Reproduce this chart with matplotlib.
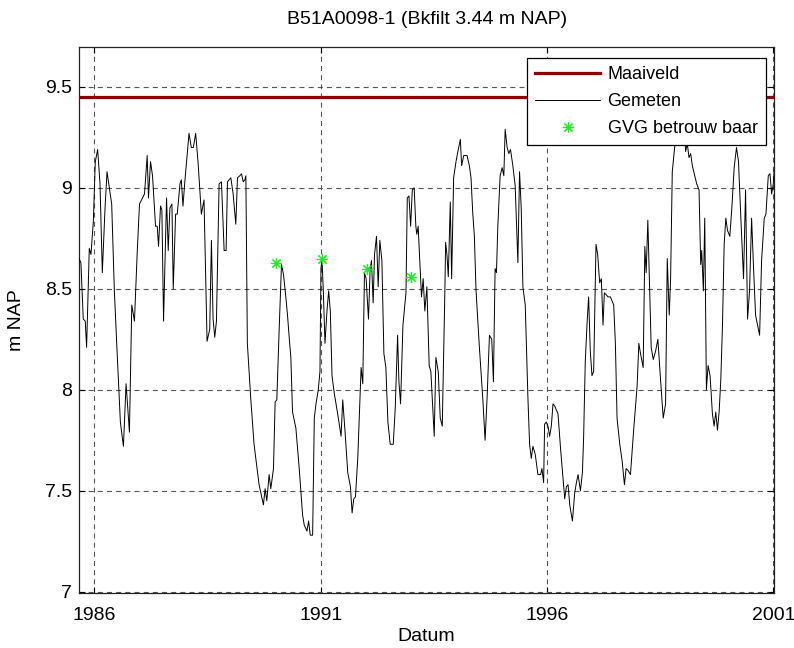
import matplotlib
matplotlib.use("Agg")
import matplotlib.pyplot as plt
from matplotlib.ticker import FormatStrFormatter

plt.rcParams['font.family'] = ['Liberation Sans', 'DejaVu Sans']
plt.rcParams['lines.scale_dashes'] = False

# measured groundwater levels (decimal year, m NAP)
dates_a = [1985.662, 1985.704, 1985.756, 1985.800, 1985.830, 1985.889, 1985.926, 1985.978, 1986.022, 1986.074,
           1986.126, 1986.177, 1986.237, 1986.281, 1986.384, 1986.443, 1986.503, 1986.576, 1986.643, 1986.702,
           1986.776, 1986.828, 1986.887, 1986.946, 1986.998, 1987.109, 1987.168, 1987.197, 1987.242, 1987.286,
           1987.353, 1987.390, 1987.419, 1987.463, 1987.493, 1987.530, 1987.596, 1987.633, 1987.670, 1987.715,
           1987.744, 1987.796, 1987.833, 1987.892, 1987.922, 1987.959, 1987.996, 1988.092, 1988.143, 1988.188,
           1988.239, 1988.291, 1988.365, 1988.424, 1988.491, 1988.550, 1988.587, 1988.624, 1988.661, 1988.698,
           1988.757, 1988.809, 1988.868, 1988.912, 1988.942, 1989.016, 1989.067, 1989.126, 1989.163, 1989.215,
           1989.252, 1989.289, 1989.326, 1989.348]
levels_a = [8.65, 8.63, 8.35, 8.34, 8.21, 8.70, 8.67, 8.83, 9.13, 9.19,
            9.02, 8.58, 8.90, 9.08, 8.92, 8.49, 8.19, 7.84, 7.72, 8.03,
            7.79, 8.42, 8.34, 8.67, 8.92, 8.97, 9.16, 8.95, 9.13, 9.06,
            8.81, 8.81, 8.71, 8.91, 8.89, 8.34, 8.95, 8.69, 8.90, 8.92,
            8.50, 8.87, 8.87, 9.02, 9.04, 8.91, 9.02, 9.27, 9.20, 9.20,
            9.27, 9.13, 8.87, 8.94, 8.24, 8.30, 8.74, 8.35, 8.26, 8.34,
            9.02, 9.03, 8.69, 8.69, 9.03, 9.05, 8.97, 8.82, 9.05, 9.06,
            9.07, 9.03, 9.04, 9.06]

dates_b = [1989.381, 1989.455, 1989.529, 1989.640, 1989.736, 1989.773, 1989.810, 1989.862, 1989.899, 1989.958,
           1989.995, 1990.032, 1990.084, 1990.135, 1990.180, 1990.231, 1990.268, 1990.305, 1990.342, 1990.379,
           1990.453, 1990.527, 1990.601, 1990.638, 1990.697, 1990.734, 1990.771, 1990.823, 1990.860, 1990.897,
           1990.948, 1990.985, 1991.007, 1991.030, 1991.059, 1991.096, 1991.140, 1991.177, 1991.214, 1991.251,
           1991.303, 1991.377, 1991.451, 1991.488, 1991.540, 1991.599, 1991.658, 1991.695, 1991.732, 1991.769,
           1991.820, 1991.894, 1991.931, 1991.968, 1992.005, 1992.057, 1992.094, 1992.123, 1992.160, 1992.190,
           1992.234, 1992.271, 1992.308, 1992.353, 1992.397, 1992.441, 1992.486, 1992.537, 1992.604, 1992.648,
           1992.700, 1992.729, 1992.766, 1992.818, 1992.885, 1992.914, 1992.951, 1992.988, 1993.025]
levels_b = [8.23, 7.96, 7.73, 7.53, 7.43, 7.51, 7.45, 7.58, 7.51, 7.61,
            7.94, 7.95, 8.30, 8.62, 8.57, 8.46, 8.37, 8.26, 8.16, 7.89,
            7.81, 7.61, 7.38, 7.33, 7.30, 7.35, 7.28, 7.28, 7.86, 7.93,
            8.00, 8.09, 8.60, 8.65, 8.49, 8.23, 8.39, 8.49, 8.39, 8.07,
            7.98, 7.88, 7.77, 7.95, 7.79, 7.59, 7.52, 7.39, 7.46, 7.47,
            7.66, 8.11, 8.03, 8.58, 8.55, 8.35, 8.60, 8.64, 8.43, 8.67,
            8.76, 8.51, 8.74, 8.64, 8.18, 8.11, 7.84, 7.73, 7.73, 7.91,
            8.27, 8.04, 7.93, 8.32, 8.48, 8.95, 8.96, 8.81, 8.99]

dates_c = [1993.066, 1993.103, 1993.125, 1993.154, 1993.199, 1993.228, 1993.265, 1993.302, 1993.347, 1993.398,
           1993.435, 1993.472, 1993.509, 1993.546, 1993.598, 1993.642, 1993.687, 1993.746, 1993.761, 1993.790,
           1993.820, 1993.864, 1993.894, 1993.938, 1993.990, 1994.041, 1994.086, 1994.115, 1994.160, 1994.234,
           1994.285, 1994.322, 1994.359, 1994.396, 1994.433, 1994.507, 1994.581, 1994.633, 1994.677, 1994.729,
           1994.780, 1994.817, 1994.854, 1994.884, 1994.914, 1994.965, 1995.010, 1995.047, 1995.076, 1995.120,
           1995.157, 1995.194, 1995.246, 1995.298, 1995.357, 1995.394, 1995.431, 1995.468, 1995.520, 1995.579,
           1995.616, 1995.653, 1995.690, 1995.741, 1995.800, 1995.860, 1995.889, 1995.926, 1995.948, 1995.985,
           1996.022, 1996.059, 1996.096, 1996.133, 1996.170, 1996.244, 1996.303, 1996.355, 1996.392, 1996.429,
           1996.466, 1996.503, 1996.562, 1996.613, 1996.650, 1996.687, 1996.739, 1996.783]
levels_c = [9.00, 8.81, 8.77, 8.81, 8.60, 8.46, 8.55, 8.39, 8.51, 8.12,
            8.09, 7.93, 7.77, 8.16, 8.09, 7.86, 7.82, 8.51, 8.73, 8.67,
            8.56, 8.93, 8.55, 9.05, 9.13, 9.19, 9.24, 9.11, 9.16, 9.16,
            9.11, 9.05, 8.88, 8.76, 8.49, 8.21, 7.96, 7.75, 7.96, 8.27,
            8.25, 8.04, 8.60, 8.58, 8.81, 9.06, 9.10, 9.06, 9.29, 9.20,
            9.17, 9.19, 9.11, 9.01, 8.63, 9.08, 8.90, 8.51, 8.42, 7.96,
            7.73, 7.66, 7.72, 7.68, 7.58, 7.58, 7.61, 7.54, 7.83, 7.84,
            7.82, 7.77, 7.82, 7.93, 7.92, 7.88, 7.70, 7.56, 7.46, 7.52,
            7.53, 7.43, 7.35, 7.49, 7.54, 7.58, 7.50, 7.59]

dates_d = [1996.809, 1996.846, 1996.883, 1996.920, 1996.957, 1996.994, 1997.031, 1997.083, 1997.120, 1997.164,
           1997.201, 1997.238, 1997.267, 1997.312, 1997.349, 1997.401, 1997.474, 1997.511, 1997.548, 1997.608,
           1997.659, 1997.711, 1997.748, 1997.792, 1997.844, 1997.918, 1997.992, 1998.029, 1998.066, 1998.125,
           1998.162, 1998.191, 1998.228, 1998.265, 1998.302, 1998.347, 1998.398, 1998.450, 1998.509, 1998.568,
           1998.620, 1998.657, 1998.701, 1998.731, 1998.768, 1998.820, 1998.879, 1998.953, 1999.027, 1999.064,
           1999.100, 1999.137, 1999.174, 1999.211, 1999.263, 1999.307, 1999.359, 1999.396, 1999.418, 1999.455,
           1999.485, 1999.522, 1999.559, 1999.603, 1999.655, 1999.692, 1999.729, 1999.766, 1999.803, 1999.840,
           1999.877, 1999.914, 1999.951, 1999.987, 2000.039, 2000.084, 2000.135, 2000.187, 2000.231, 2000.283,
           2000.342, 2000.387, 2000.431, 2000.475, 2000.520, 2000.564, 2000.608, 2000.653, 2000.697, 2000.741,
           2000.800, 2000.837, 2000.889, 2000.926, 2000.963, 2001.000, 2001.022]
levels_d = [7.76, 8.14, 8.32, 8.46, 8.19, 8.07, 8.09, 8.72, 8.67, 8.53,
            8.55, 8.32, 8.48, 8.47, 8.46, 8.46, 8.42, 8.23, 7.86, 7.73,
            7.65, 7.53, 7.61, 7.60, 7.58, 7.81, 8.02, 8.23, 8.18, 8.11,
            8.71, 8.58, 8.84, 8.53, 8.21, 8.15, 8.19, 8.25, 8.05, 7.86,
            7.93, 8.65, 8.37, 8.55, 9.08, 9.20, 9.29, 9.25, 9.31, 9.18,
            9.22, 9.15, 9.17, 9.11, 9.06, 9.02, 8.99, 8.62, 8.69, 8.49,
            8.85, 8.00, 8.12, 8.07, 7.88, 7.82, 7.89, 7.80, 7.89, 8.05,
            8.32, 8.72, 8.85, 8.79, 8.76, 8.90, 9.10, 9.20, 9.13, 8.85,
            8.55, 8.99, 8.35, 8.49, 8.85, 8.60, 8.37, 8.32, 8.27, 8.64,
            8.85, 8.87, 9.06, 9.07, 8.97, 9.02, 9.10]

# GVG (reliable) points
gvg_dates = [1990.02, 1991.03, 1992.02, 1993.00]
gvg_levels = [8.63, 8.65, 8.60, 8.56]

maaiveld = 9.45
year_ticks = [1986, 1991, 1996, 2001]
level_ticks = [7, 7.5, 8, 8.5, 9, 9.5]

dates = dates_a + dates_b + dates_c + dates_d
levels = levels_a + levels_b + levels_c + levels_d

fig = plt.figure(figsize=(7.94, 6.48), dpi=100)
ax = fig.add_axes([0.0995, 0.0844, 0.8757, 0.8438])

ax.plot([dates[0], dates[-1]], [maaiveld, maaiveld], color='#8b0000', linewidth=2.3,
        label='Maaiveld', zorder=3)
ax.plot(dates, levels, color='black', linewidth=0.7, label='Gemeten', zorder=4)
ax.plot(gvg_dates, gvg_levels, linestyle='none', marker=(8, 2, 0), markersize=8,
        markeredgecolor='#00ff00', markeredgewidth=0.8, color='#00ff00',
        label='GVG betrouw baar', zorder=5)

ax.set_xlim(1985.662, 2001.022)
ax.set_ylim(6.992, 9.70)
ax.set_xticks(year_ticks)
ax.set_yticks(level_ticks)
ax.yaxis.set_major_formatter(FormatStrFormatter('%g'))

ax.grid(True, color='#555555', linestyle=(0, (3.6, 3.0)), linewidth=0.8)
ax.set_axisbelow(True)
ax.tick_params(direction='in', top=True, right=True, length=4, width=0.8, labelsize=14)
ax.tick_params(axis='x', pad=9.5)
ax.tick_params(axis='y', pad=5)
for sp in ax.spines.values():
    sp.set_linewidth(0.9)
    sp.set_color('#222222')

ax.set_title('B51A0098-1 (Bkfilt 3.44 m NAP)', fontsize=14, pad=16)
ax.set_xlabel('Datum', fontsize=14, labelpad=3)
ax.set_ylabel('m NAP', fontsize=14, labelpad=14)

leg = ax.legend(loc='upper right', bbox_to_anchor=(0.9876, 0.9793), borderaxespad=0,
                fontsize=13, handlelength=3.6, handletextpad=0.4, labelspacing=0.55,
                borderpad=0.45, fancybox=False, framealpha=1, edgecolor='black')
leg.get_frame().set_linewidth(0.9)

fig.savefig('out.png', dpi=100)
